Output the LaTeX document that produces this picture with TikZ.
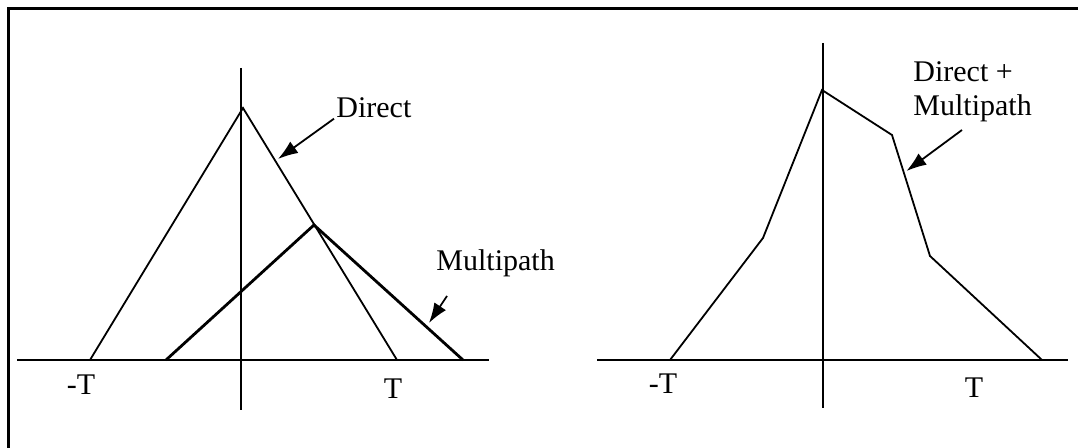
\documentclass[tikz,border=0pt]{standalone}
\usepackage{fontspec}
\setmainfont{Liberation Serif}
\usetikzlibrary{arrows.meta}

\begin{document}
\begin{tikzpicture}[x=0.5pt,y=-0.5pt,
    font=\fontsize{15}{17}\selectfont,
    axisline/.style={line width=1.1pt},
    pulse/.style={line width=0.9pt,line join=miter},
    pulsebold/.style={line width=1.4pt},
    pointer/.style={->,>={Latex[length=10pt,width=7pt]},line width=0.9pt}]
    \useasboundingbox (0,0) rectangle (1078,448);
    \clip (0,0) rectangle (1078,448);
    \draw[line width=1.1pt] (8.5,8.5) rectangle (1100,470);

    % left panel: direct and multipath pulses
    \coordinate (LW) at (17,360);
    \coordinate (LE) at (489,360);
    \coordinate (LN) at (241,68);
    \coordinate (LS) at (241,410);
    \coordinate (D0) at (90,360);
    \coordinate (D1) at (243,108);
    \coordinate (D2) at (397,360);
    \coordinate (M0) at (166,360);
    \coordinate (M1) at (314,225);
    \coordinate (M2) at (463,360);
    \draw[axisline] (LW) -- (LE);
    \draw[axisline] (LN) -- (LS);
    \draw[pulse] (D0) -- (D1) -- (D2);
    \draw[pulsebold] (M0) -- (M1) -- (M2);
    \node[anchor=base] (LmT) at (81,395) {-T};
    \node[anchor=base] (LT) at (393,399) {T};
    \node[anchor=base west,inner sep=0pt] (direct) at (336,118) {Direct};
    \node[anchor=base west,inner sep=0pt] (multi) at (436,271) {Multipath};
    \coordinate (directtip) at (278,159);
    \coordinate (multitip) at (429,323);
    \path[pointer]
      ([xshift=-1pt]direct.south west) edge (directtip)
      (447,296) edge (multitip);

    % right panel: sum of both
    \coordinate (RW) at (597,360);
    \coordinate (RE) at (1068,360);
    \coordinate (RN) at (823,43);
    \coordinate (RS) at (823,408);
    \coordinate (S0) at (670,360);
    \coordinate (S1) at (763,238);
    \coordinate (S2) at (822,90);
    \coordinate (S3) at (892,135);
    \coordinate (S4) at (930,256);
    \coordinate (S5) at (1042,360);
    \draw[axisline] (RW) -- (RE);
    \draw[axisline] (RN) -- (RS);
    \draw[pulse] (S0) -- (S1) -- (S2) -- (S3) -- (S4) -- (S5);
    \node[anchor=base] (RmT) at (663,394) {-T};
    \node[anchor=base] (RT) at (974,398) {T};
    \node[anchor=north west,inner sep=0pt,align=left] (sum) at (913,61)
      {Direct +\\Multipath};
    \coordinate (sumtip) at (906.5,171);
    \path[pointer]
      (962,130) edge (sumtip);
\end{tikzpicture}
\end{document}
